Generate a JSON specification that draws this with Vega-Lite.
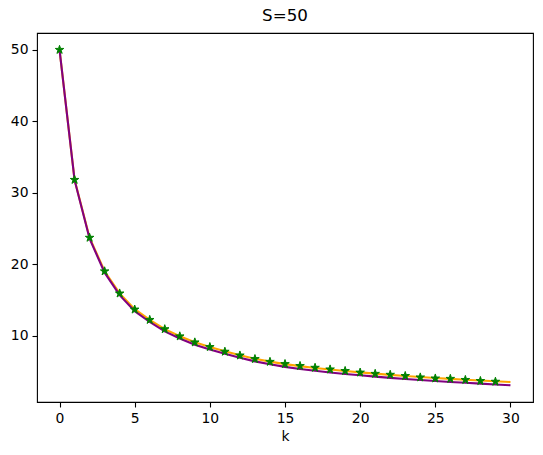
{
  "$schema": "https://vega.github.io/schema/vega-lite/v6.json",
  "autosize": "none",
  "width": 496,
  "height": 369,
  "padding": {"left": 37, "top": 33, "right": 10, "bottom": 53},
  "background": "white",
  "title": {"text": "S=50", "fontSize": 16.7, "font": "DejaVu Sans", "fontWeight": "normal", "color": "black", "anchor": "middle", "offset": 8},
  "config": {
    "view": {"stroke": "black", "strokeWidth": 1.1},
    "axis": {"grid": false, "domain": false, "tickColor": "black", "tickSize": 5, "tickWidth": 1.1, "labelFont": "DejaVu Sans", "labelFontSize": 13.9, "labelColor": "black", "titleFont": "DejaVu Sans", "titleFontSize": 13.9, "titleFontWeight": "normal", "titleColor": "black"}
  },
  "datasets": {
    "curves": [
      {"k": 0, "a": 50, "b": 50},
      {"k": 1, "a": 31.8, "b": 31.75},
      {"k": 2, "a": 23.7, "b": 23.55},
      {"k": 3, "a": 19.0, "b": 18.8},
      {"k": 4, "a": 15.9, "b": 15.65},
      {"k": 5, "a": 13.7, "b": 13.42},
      {"k": 6, "a": 12.2, "b": 11.9},
      {"k": 7, "a": 10.9, "b": 10.59},
      {"k": 8, "a": 9.9, "b": 9.58},
      {"k": 9, "a": 9.05, "b": 8.72},
      {"k": 10, "a": 8.4, "b": 8.06},
      {"k": 11, "a": 7.8, "b": 7.45},
      {"k": 12, "a": 7.25, "b": 6.89},
      {"k": 13, "a": 6.75, "b": 6.39},
      {"k": 14, "a": 6.35, "b": 5.98},
      {"k": 15, "a": 6.0, "b": 5.62},
      {"k": 16, "a": 5.72, "b": 5.33},
      {"k": 17, "a": 5.47, "b": 5.07},
      {"k": 18, "a": 5.25, "b": 4.84},
      {"k": 19, "a": 5.04, "b": 4.63},
      {"k": 20, "a": 4.85, "b": 4.44},
      {"k": 21, "a": 4.67, "b": 4.25},
      {"k": 22, "a": 4.5, "b": 4.08},
      {"k": 23, "a": 4.35, "b": 3.93},
      {"k": 24, "a": 4.2, "b": 3.78},
      {"k": 25, "a": 4.07, "b": 3.64},
      {"k": 26, "a": 3.94, "b": 3.51},
      {"k": 27, "a": 3.82, "b": 3.39},
      {"k": 28, "a": 3.71, "b": 3.27},
      {"k": 29, "a": 3.6, "b": 3.16},
      {"k": 30, "a": 3.5, "b": 3.05}
    ],
    "stars": [
      {"k": 0, "sim": 50},
      {"k": 1, "sim": 31.8},
      {"k": 2, "sim": 23.7},
      {"k": 3, "sim": 19.0},
      {"k": 4, "sim": 15.9},
      {"k": 5, "sim": 13.65},
      {"k": 6, "sim": 12.2},
      {"k": 7, "sim": 10.9},
      {"k": 8, "sim": 9.9},
      {"k": 9, "sim": 9.05},
      {"k": 10, "sim": 8.4},
      {"k": 11, "sim": 7.75},
      {"k": 12, "sim": 7.22},
      {"k": 13, "sim": 6.72},
      {"k": 14, "sim": 6.33},
      {"k": 15, "sim": 6.02},
      {"k": 16, "sim": 5.75},
      {"k": 17, "sim": 5.5},
      {"k": 18, "sim": 5.27},
      {"k": 19, "sim": 5.05},
      {"k": 20, "sim": 4.83},
      {"k": 21, "sim": 4.65},
      {"k": 22, "sim": 4.52},
      {"k": 23, "sim": 4.35},
      {"k": 24, "sim": 4.15},
      {"k": 25, "sim": 4.0},
      {"k": 26, "sim": 3.95},
      {"k": 27, "sim": 3.8},
      {"k": 28, "sim": 3.65},
      {"k": 29, "sim": 3.55}
    ]
  },
  "layer": [
    {
      "data": {"name": "curves"},
      "mark": {"type": "line", "strokeWidth": 2.1, "color": "orange"},
      "encoding": {
        "x": {"field": "k", "type": "quantitative", "title": "k",
          "scale": {"domain": [-1.5, 31.5], "nice": false, "zero": false},
          "axis": {"values": [0, 5, 10, 15, 20, 25, 30], "labelPadding": 4, "titlePadding": 5}},
        "y": {"field": "a", "type": "quantitative", "title": null,
          "scale": {"domain": [0.7, 52.35], "nice": false, "zero": false},
          "axis": {"values": [10, 20, 30, 40, 50], "labelPadding": 4}}
      }
    },
    {
      "data": {"name": "curves"},
      "mark": {"type": "line", "strokeWidth": 2.1, "color": "purple"},
      "encoding": {
        "x": {"field": "k", "type": "quantitative"},
        "y": {"field": "b", "type": "quantitative"}
      }
    },
    {
      "data": {"name": "stars"},
      "mark": {"type": "point", "shape": "M0,-1L0.2245,-0.309L0.951,-0.309L0.363,0.118L0.588,0.809L0,0.382L-0.588,0.809L-0.363,0.118L-0.951,-0.309L-0.2245,-0.309Z", "filled": true, "color": "green", "stroke": "green", "strokeWidth": 1, "opacity": 1, "size": 80},
      "encoding": {
        "x": {"field": "k", "type": "quantitative"},
        "y": {"field": "sim", "type": "quantitative"}
      }
    }
  ]
}
